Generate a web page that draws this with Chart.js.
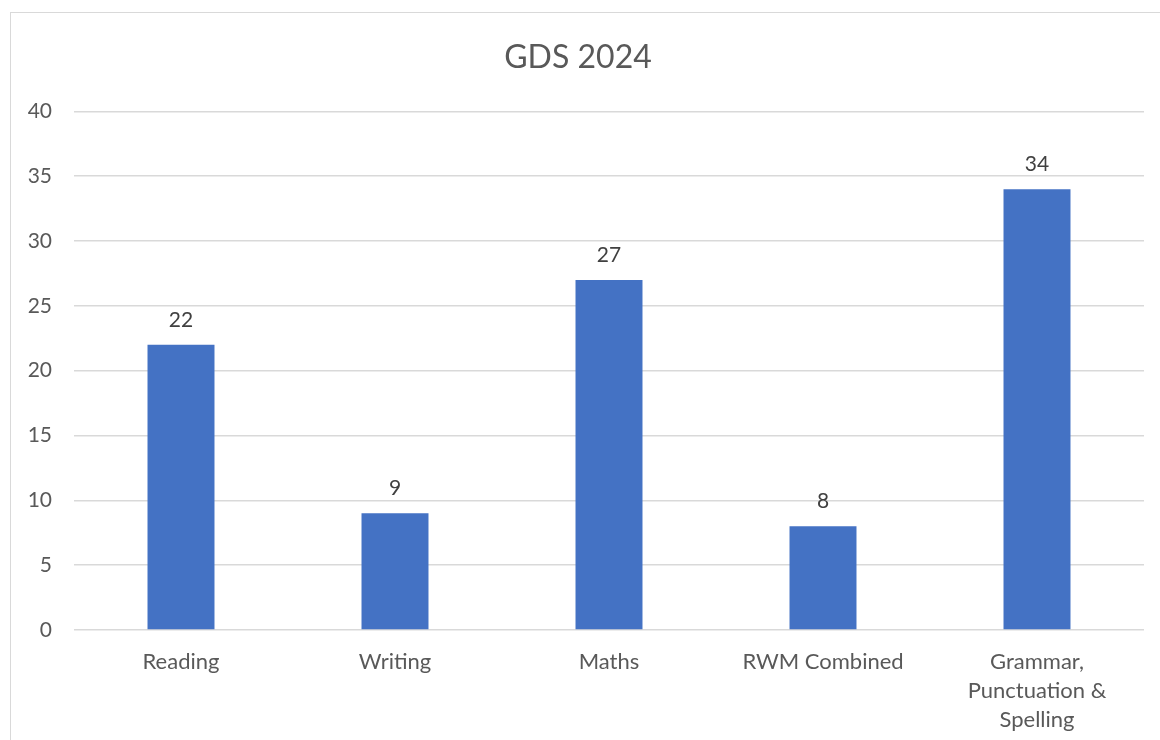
<!DOCTYPE html>
<html>
<head>
<meta charset="utf-8">
<script src="https://cdn.jsdelivr.net/npm/chart.js@4"></script>
<style>
  html, body { margin: 0; padding: 0; background: #fff; overflow: hidden; }
  #wrap { position: absolute; left: 0; top: 0; width: 1160px; height: 740px; }
  #frame { position: absolute; left: 10px; top: 12px; width: 1160px; height: 740px; border: 1px solid #d9d9d9; }
</style>
</head>
<body>
<div id="frame"></div>
<div id="wrap"><canvas id="chart" width="1160" height="740"></canvas></div>
<script>
const categories = ['Reading', 'Writing', 'Maths', 'RWM Combined', ['Grammar,', 'Punctuation &', 'Spelling']]
const gdsValues = [22, 9, 27, 8, 34]
const yTicks = [0, 5, 10, 15, 20, 25, 30, 35, 40]

const textColor = '#595959'
const fontFamily = "Lato, sans-serif"

// draws the value above each bar
const valueLabels = {
  id: 'valueLabels',
  afterDatasetsDraw(chart) {
    const ctx = chart.ctx
    const meta = chart.getDatasetMeta(0)
    ctx.save()
    ctx.font = `21px ${fontFamily}`
    ctx.fillStyle = '#404040'
    ctx.textAlign = 'center'
    ctx.textBaseline = 'middle'
    meta.data.forEach((bar, i) => {
      ctx.fillText(gdsValues[i], bar.x, bar.y - 25)
    })
    ctx.restore()
  }
}

new Chart(document.getElementById('chart'), {
  type: 'bar',
  data: {
    labels: categories,
    datasets: [{
      label: 'GDS 2024',
      data: gdsValues,
      backgroundColor: '#4472C4',
      barPercentage: 0.313,
      categoryPercentage: 1
    }]
  },
  options: {
    responsive: false,
    animation: false,
    layout: { padding: { left: 12, right: 16, top: 0, bottom: 0 } },
    plugins: {
      legend: { display: false },
      tooltip: { enabled: false },
      title: {
        display: true,
        text: 'GDS 2024',
        color: textColor,
        font: { family: fontFamily, size: 32, weight: 'normal' },
        padding: { top: 38, bottom: 35 }
      }
    },
    scales: {
      x: {
        grid: { display: false },
        border: { display: false },
        ticks: {
          color: textColor,
          font: { family: fontFamily, size: 22, lineHeight: 1.32 },
          padding: 9,
          maxRotation: 0,
          autoSkip: false
        },
        afterFit(scale) { scale.height = 110 }
      },
      y: {
        min: 0,
        max: 40,
        afterBuildTicks(scale) { scale.ticks = yTicks.map(v => ({ value: v })) },
        grid: { color: '#d9d9d9', lineWidth: 1.5, drawTicks: false },
        border: { display: false },
        ticks: {
          color: textColor,
          font: { family: fontFamily, size: 21 },
          padding: 22
        },
        afterFit(scale) { scale.width = 62 }
      }
    }
  },
  plugins: [valueLabels]
})
</script>
</body>
</html>
